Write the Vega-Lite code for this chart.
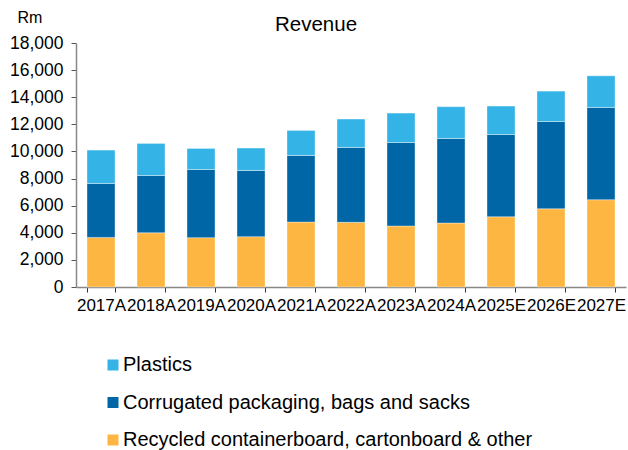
{
  "$schema": "https://vega.github.io/schema/vega-lite/v6.json",
  "width": 550,
  "height": 244,
  "autosize": "none",
  "padding": {"left": 76, "top": 43, "right": 2, "bottom": 163},
  "background": "white",
  "config": {
    "view": {"stroke": null},
    "font": "Liberation Sans",
    "axis": {"labelFont": "Liberation Sans", "titleFont": "Liberation Sans"},
    "legend": {"labelFont": "Liberation Sans"}
  },
  "title": {
    "text": "Revenue",
    "fontSize": 20.5,
    "fontWeight": "normal",
    "font": "Liberation Sans",
    "color": "#000000",
    "anchor": "middle",
    "dx": -35,
    "dy": 38,
    "offset": 12
  },
  "data": {
    "values": [
      {"year": "2017A", "segment": "Recycled containerboard, cartonboard & other", "k": 1, "value": 3660},
      {"year": "2017A", "segment": "Corrugated packaging, bags and sacks", "k": 2, "value": 3980},
      {"year": "2017A", "segment": "Plastics", "k": 3, "value": 2460},
      {"year": "2018A", "segment": "Recycled containerboard, cartonboard & other", "k": 1, "value": 4000},
      {"year": "2018A", "segment": "Corrugated packaging, bags and sacks", "k": 2, "value": 4230},
      {"year": "2018A", "segment": "Plastics", "k": 3, "value": 2360},
      {"year": "2019A", "segment": "Recycled containerboard, cartonboard & other", "k": 1, "value": 3640},
      {"year": "2019A", "segment": "Corrugated packaging, bags and sacks", "k": 2, "value": 5030},
      {"year": "2019A", "segment": "Plastics", "k": 3, "value": 1550},
      {"year": "2020A", "segment": "Recycled containerboard, cartonboard & other", "k": 1, "value": 3710},
      {"year": "2020A", "segment": "Corrugated packaging, bags and sacks", "k": 2, "value": 4890},
      {"year": "2020A", "segment": "Plastics", "k": 3, "value": 1650},
      {"year": "2021A", "segment": "Recycled containerboard, cartonboard & other", "k": 1, "value": 4790},
      {"year": "2021A", "segment": "Corrugated packaging, bags and sacks", "k": 2, "value": 4920},
      {"year": "2021A", "segment": "Plastics", "k": 3, "value": 1840},
      {"year": "2022A", "segment": "Recycled containerboard, cartonboard & other", "k": 1, "value": 4770},
      {"year": "2022A", "segment": "Corrugated packaging, bags and sacks", "k": 2, "value": 5530},
      {"year": "2022A", "segment": "Plastics", "k": 3, "value": 2090},
      {"year": "2023A", "segment": "Recycled containerboard, cartonboard & other", "k": 1, "value": 4500},
      {"year": "2023A", "segment": "Corrugated packaging, bags and sacks", "k": 2, "value": 6160},
      {"year": "2023A", "segment": "Plastics", "k": 3, "value": 2170},
      {"year": "2024A", "segment": "Recycled containerboard, cartonboard & other", "k": 1, "value": 4720},
      {"year": "2024A", "segment": "Corrugated packaging, bags and sacks", "k": 2, "value": 6240},
      {"year": "2024A", "segment": "Plastics", "k": 3, "value": 2340},
      {"year": "2025E", "segment": "Recycled containerboard, cartonboard & other", "k": 1, "value": 5180},
      {"year": "2025E", "segment": "Corrugated packaging, bags and sacks", "k": 2, "value": 6070},
      {"year": "2025E", "segment": "Plastics", "k": 3, "value": 2100},
      {"year": "2026E", "segment": "Recycled containerboard, cartonboard & other", "k": 1, "value": 5770},
      {"year": "2026E", "segment": "Corrugated packaging, bags and sacks", "k": 2, "value": 6440},
      {"year": "2026E", "segment": "Plastics", "k": 3, "value": 2240},
      {"year": "2027E", "segment": "Recycled containerboard, cartonboard & other", "k": 1, "value": 6440},
      {"year": "2027E", "segment": "Corrugated packaging, bags and sacks", "k": 2, "value": 6810},
      {"year": "2027E", "segment": "Plastics", "k": 3, "value": 2330}
    ]
  },
  "mark": {"type": "bar", "stroke": "#ffffff", "strokeWidth": 0.6, "strokeOpacity": 0.6},
  "encoding": {
    "x": {
      "field": "year",
      "type": "nominal",
      "sort": null,
      "scale": {"paddingInner": 0.44, "paddingOuter": 0.22},
      "axis": {
        "title": null,
        "labelAngle": 0,
        "labelFontSize": 17,
        "labelColor": "#000000",
        "labelPadding": 5,
        "labelOverlap": false,
        "labelBound": false,
        "labelFlush": false,
        "tickBand": "extent",
        "tickSize": 5,
        "tickColor": "#333333",
        "domainColor": "#888888",
        "domainWidth": 1.5
      }
    },
    "y": {
      "field": "value",
      "type": "quantitative",
      "aggregate": "sum",
      "stack": "zero",
      "scale": {"domain": [0, 18000], "nice": false},
      "axis": {
        "title": "Rm",
        "titleAngle": 0,
        "titleAlign": "left",
        "titleBaseline": "alphabetic",
        "titleX": -59,
        "titleY": -21,
        "titleFontSize": 16,
        "titleFontWeight": "normal",
        "titleColor": "#000000",
        "values": [0, 2000, 4000, 6000, 8000, 10000, 12000, 14000, 16000, 18000],
        "format": ",d",
        "labelFontSize": 17.5,
        "labelColor": "#000000",
        "labelPadding": 8,
        "tickSize": 5,
        "tickColor": "#555555",
        "domainColor": "#888888",
        "domainWidth": 1.5,
        "grid": false
      }
    },
    "color": {
      "field": "segment",
      "type": "nominal",
      "scale": {
        "domain": ["Plastics", "Corrugated packaging, bags and sacks", "Recycled containerboard, cartonboard & other"],
        "range": ["#33B3E6", "#0066A6", "#FDB642"]
      },
      "legend": {
        "title": null,
        "orient": "none",
        "legendX": 27,
        "legendY": 312,
        "direction": "vertical",
        "symbolType": "square",
        "symbolSize": 121,
        "symbolStrokeWidth": 0,
        "labelFontSize": 20,
        "labelColor": "#000000",
        "labelLimit": 600,
        "labelOffset": 0,
        "rowPadding": 17.5
      }
    },
    "order": {"field": "k", "type": "quantitative", "sort": "ascending"}
  }
}
